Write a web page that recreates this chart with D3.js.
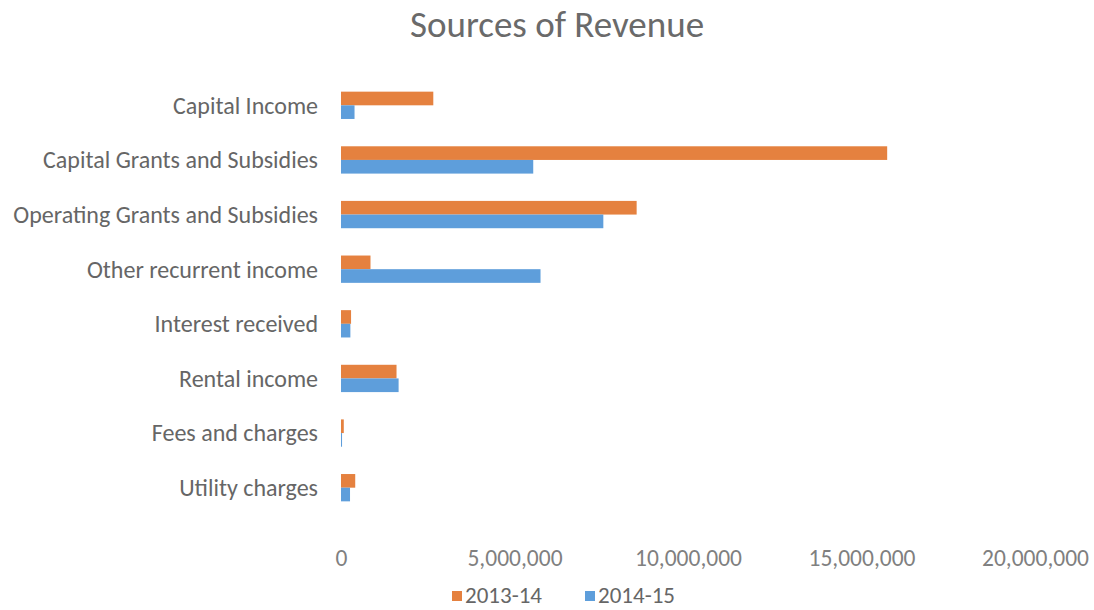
<!DOCTYPE html>
<html>
<head>
<meta charset="utf-8">
<script src="https://cdn.jsdelivr.net/npm/d3@7/dist/d3.min.js"></script>
<style>
  html, body { margin: 0; padding: 0; background: #fff; }
  svg { display: block; }
  text { font-family: Carlito, Lato, "Open Sans", sans-serif; fill: #666; }
</style>
</head>
<body>
<svg id="chart" width="1094" height="610"></svg>
<script>
// Revenue categories, top to bottom
const categories = [
  "Capital Income ",
  "Capital Grants and Subsidies",
  "Operating Grants and Subsidies",
  "Other recurrent income",
  "Interest received",
  "Rental income",
  "Fees and charges",
  "Utility charges"
];
const seriesNames = ["2013-14", "2014-15"];
const values2013 = [2660000, 15740000, 8520000, 850000, 290000, 1600000, 80000, 410000];
const values2014 = [390000, 5540000, 7560000, 5750000, 270000, 1660000, 30000, 260000];
const xTicks = [0, 5000000, 10000000, 15000000, 20000000];
const colors = ["#E5813F", "#5E9EDB"];

const svg = d3.select("#chart");
const W = 1094, H = 610;
const margin = { top: 78, left: 341, right: W - 1035, bottom: 95 };

const x = d3.scaleLinear().domain([0, 20000000]).range([margin.left, W - margin.right]);
const y = d3.scaleBand().domain(categories).range([margin.top, H - margin.bottom]).paddingInner(0.5).paddingOuter(0.25);
const ySub = d3.scaleBand().domain(seriesNames).range([0, y.bandwidth()]);

const rows = categories.map((c, i) => ({ cat: c, vals: [values2013[i], values2014[i]] }));

// title
svg.append("text")
  .attr("x", 557).attr("y", 37)
  .attr("text-anchor", "middle")
  .style("font-size", "37px")
  .style("fill", "#6a6a6a")
  .text("Sources of Revenue");

// bars
const g = svg.append("g");
g.selectAll("g.row").data(rows).join("g")
  .attr("class", "row")
  .attr("transform", d => `translate(0,${y(d.cat)})`)
  .selectAll("rect").data(d => d.vals.map((v, k) => ({ v, k })))
  .join("rect")
  .attr("x", x(0))
  .attr("y", d => ySub(seriesNames[d.k]))
  .attr("height", ySub.bandwidth())
  .attr("width", d => Math.max(1, x(d.v) - x(0)))
  .attr("fill", d => colors[d.k]);

// category axis
const yAxis = svg.append("g")
  .attr("transform", `translate(${x(0) - 23},0)`)
  .call(d3.axisLeft(y).tickSize(0).tickPadding(0));
yAxis.select(".domain").remove();
yAxis.selectAll("text")
  .style("font-size", "24px")
  .style("fill", "#666")
  .attr("dy", "0.35em");

// value axis
const xAxis = svg.append("g")
  .attr("transform", `translate(0,${H - margin.bottom + 34})`)
  .call(d3.axisBottom(x).tickValues(xTicks).tickSize(0).tickPadding(0).tickFormat(d3.format(",")));
xAxis.select(".domain").remove();
xAxis.selectAll("text")
  .style("font-size", "23.5px")
  .style("fill", "#808080");

// legend
const legend = svg.append("g").attr("transform", "translate(452,595)");
const legendX = [0, 133];
seriesNames.forEach((s, i) => {
  const lg = legend.append("g").attr("transform", `translate(${legendX[i]},0)`);
  lg.append("rect").attr("x", 0).attr("y", -4).attr("width", 10).attr("height", 10).attr("fill", colors[i]);
  lg.append("text").attr("x", 13).attr("y", 0).attr("dy", "0.35em")
    .style("font-size", "23px").style("fill", "#666").text(s);
});
</script>
</body>
</html>
